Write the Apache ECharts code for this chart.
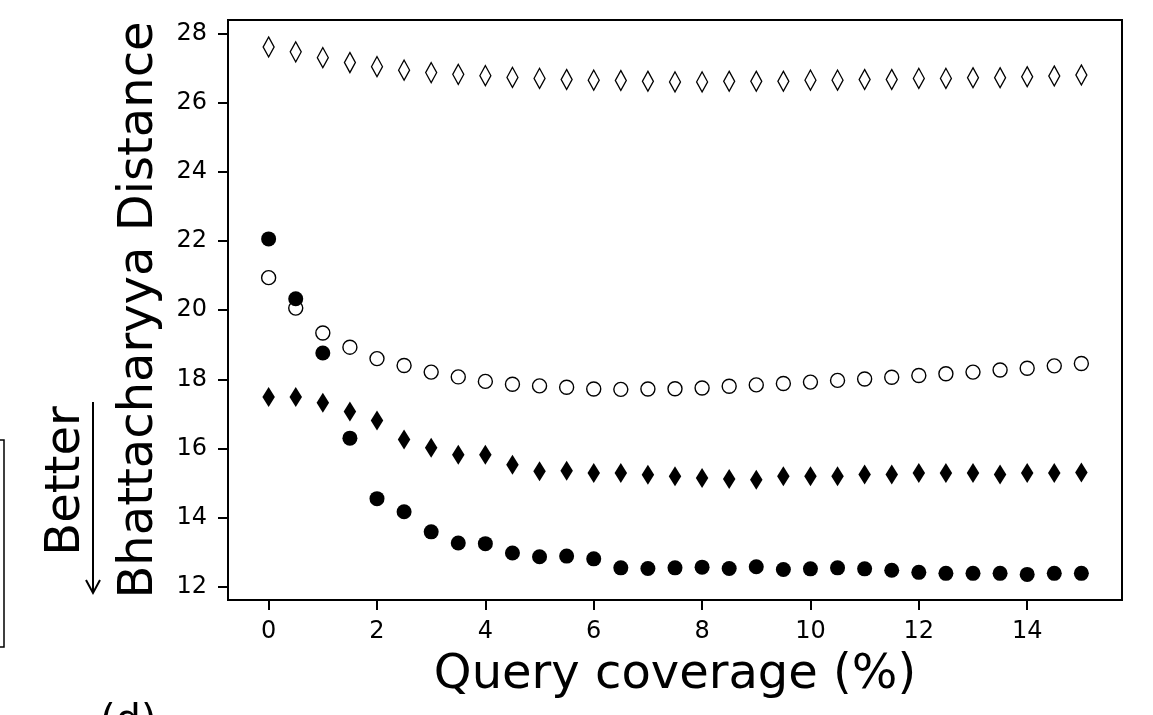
<!DOCTYPE html>
<html lang="en">
<head>
    <meta charset="UTF-8">
    <title>Bhattacharyya distance vs query coverage</title>
    <script type="text/javascript" src="https://cdn.jsdelivr.net/npm/echarts@6/dist/echarts.min.js"></script>
    <style>
        body{margin:0;background:#fff;}
    </style>
</head>

<body>
<div id="chartmain" style="width:1153px;height:715px"></div>
<script>
    // query coverage (%)
    var coverage = [0,0.5,1,1.5,2,2.5,3,3.5,4,4.5,5,5.5,6,6.5,7,7.5,8,8.5,9,9.5,10,10.5,11,11.5,12,12.5,13,13.5,14,14.5,15];

    var openDiamond = [27.61,27.47,27.30,27.16,27.04,26.94,26.87,26.82,26.78,26.73,26.70,26.67,26.65,26.64,26.62,26.60,
        26.60,26.62,26.62,26.62,26.65,26.65,26.67,26.67,26.70,26.70,26.72,26.72,26.75,26.77,26.80];
    var openCircle = [20.94,20.06,19.34,18.93,18.60,18.40,18.21,18.07,17.94,17.86,17.81,17.77,
        17.72,17.71,17.72,17.73,17.75,17.80,17.84,17.88,17.92,17.97,18.01,18.06,18.11,18.16,18.21,18.27,18.32,18.39,18.46];
    var filledDiamond = [17.49,17.49,17.32,17.07,16.81,16.26,16.02,15.82,15.82,15.53,15.34,15.36,15.29,15.29,15.24,15.20,
        15.15,15.12,15.10,15.20,15.20,15.20,15.25,15.25,15.29,15.29,15.29,15.25,15.29,15.29,15.31];
    var filledCircle = [22.06,20.33,18.76,16.30,14.55,14.17,13.59,13.27,13.25,12.98,12.87,12.89,12.81,12.55,12.53,12.55,
        12.57,12.53,12.58,12.50,12.52,12.55,12.52,12.48,12.42,12.39,12.39,12.39,12.36,12.39,12.39];

    var xTicks = [0,2,4,6,8,10,12,14];
    var yTicks = [12,14,16,18,20,22,24,26,28];

    function pairs(ys){
        var out = [];
        for(var i=0;i<coverage.length;i++){
            out.push([coverage[i], ys[i]]);
        }
        return out;
    }

    var font = 'DejaVu Sans';

    var option = {
        animation:false,
        backgroundColor:'#fff',
        grid:{
            left:228, top:20, right:31, bottom:115,
            show:true, borderColor:'#000', borderWidth:2, backgroundColor:'transparent'
        },
        xAxis:{
            type:'value',
            min:-0.75, max:15.75,
            name:'Query coverage (%)',
            nameLocation:'middle',
            nameGap:52,
            nameTextStyle:{fontFamily:font, fontSize:48, color:'#000'},
            axisLine:{show:true, onZero:false, lineStyle:{color:'#000', width:2}},
            axisTick:{show:true, length:10, lineStyle:{color:'#000', width:2}, customValues:xTicks},
            axisLabel:{fontFamily:font, fontSize:24, color:'#000', margin:20, customValues:xTicks},
            splitLine:{show:false}
        },
        yAxis:{
            type:'value',
            min:11.62, max:28.39,
            name:'Bhattacharyya Distance',
            nameLocation:'middle',
            nameGap:64,
            nameTextStyle:{fontFamily:font, fontSize:48, color:'#000'},
            axisLine:{show:true, onZero:false, lineStyle:{color:'#000', width:2}},
            axisTick:{show:true, length:10, lineStyle:{color:'#000', width:2}, customValues:yTicks},
            axisLabel:{fontFamily:font, fontSize:24, color:'#000', margin:21, customValues:yTicks},
            splitLine:{show:false}
        },
        series:[
            {
                type:'scatter', symbol:'diamond', symbolSize:[11,20],
                itemStyle:{color:'#fff', borderColor:'#000', borderWidth:1.4, opacity:1},
                data:pairs(openDiamond)
            },
            {
                type:'scatter', symbol:'circle', symbolSize:14,
                itemStyle:{color:'#fff', borderColor:'#000', borderWidth:1.4, opacity:1},
                data:pairs(openCircle)
            },
            {
                type:'scatter', symbol:'diamond', symbolSize:[12.5,20],
                itemStyle:{color:'#000', opacity:1},
                data:pairs(filledDiamond)
            },
            {
                type:'scatter', symbol:'circle', symbolSize:15,
                itemStyle:{color:'#000', opacity:1},
                data:pairs(filledCircle)
            }
        ],
        graphic:[
            {
                type:'text', x:67, y:481, rotation:Math.PI/2,
                style:{text:'Better', fontFamily:font, fontSize:48, fill:'#000', align:'center', verticalAlign:'middle'}
            },
            {
                type:'line', shape:{x1:93, y1:402, x2:93, y2:592},
                style:{stroke:'#000', lineWidth:2}
            },
            {
                type:'polyline', shape:{points:[[86,580],[93,593],[100,580]]},
                style:{stroke:'#000', lineWidth:2, fill:null}
            },
            {
                type:'rect', shape:{x:-20, y:440, width:24, height:207},
                style:{stroke:'#000', lineWidth:1.5, fill:null}
            },
            {
                // partly cut panel label at the bottom edge
                type:'text', x:100, y:703,
                style:{text:'(d)', fontFamily:font, fontSize:40, fill:'#000', align:'left', verticalAlign:'top'}
            }
        ]
    };

    var myChart=echarts.init(document.getElementById('chartmain'));
    myChart.setOption(option);
</script>
</body>
</html>
